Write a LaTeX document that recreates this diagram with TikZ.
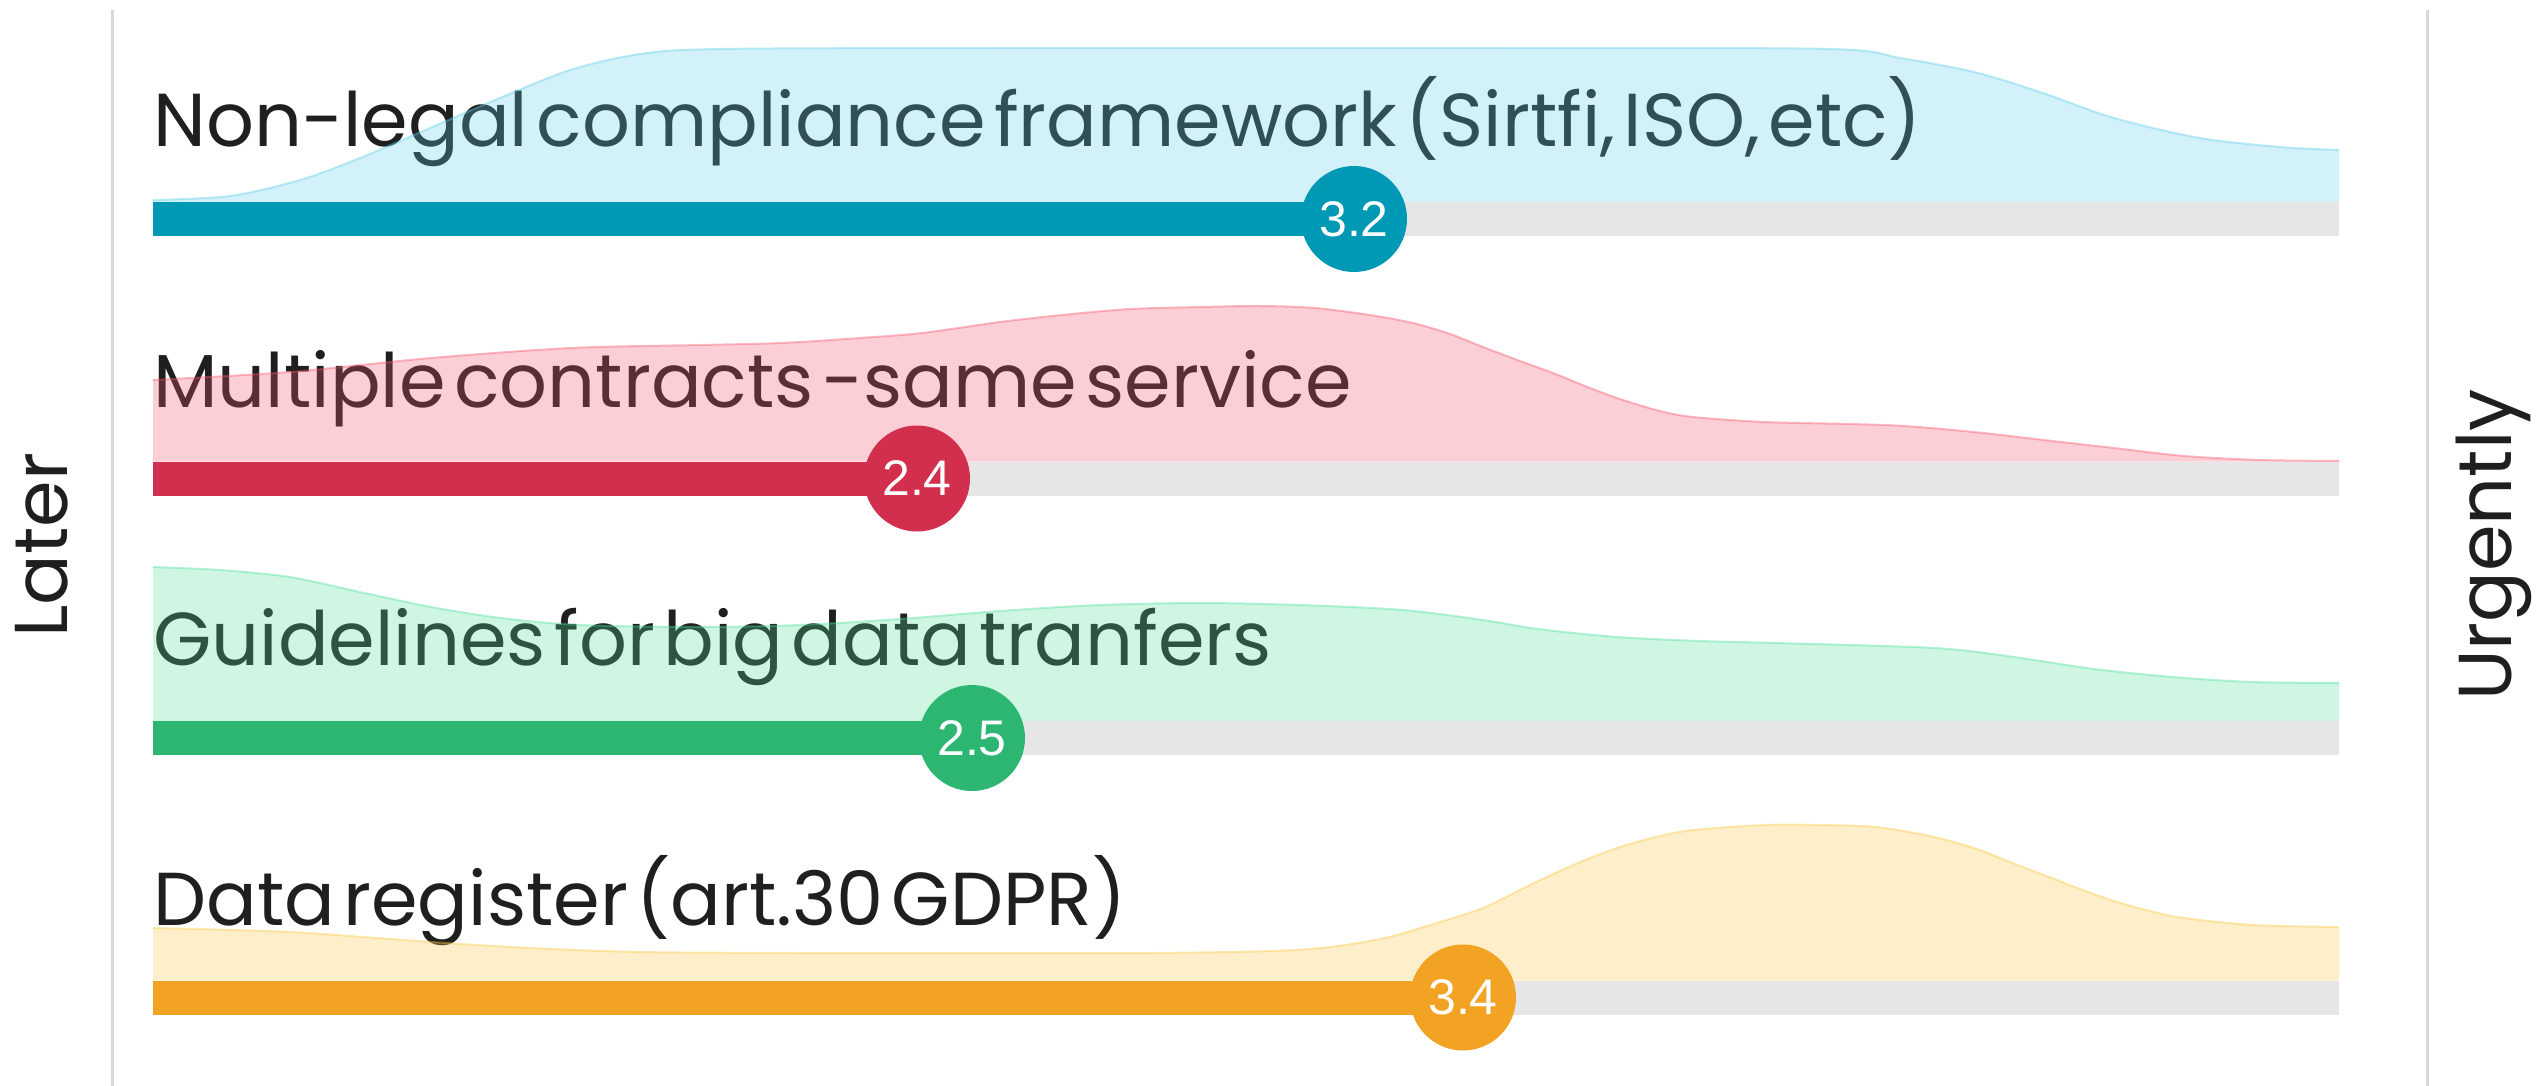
\documentclass[tikz,border=0pt]{standalone}
\usepackage{fontspec}
\setmainfont{Poppins}
\newfontfamily\titlefont[WordSpace=0.42]{Poppins}
\newfontfamily\numfont{Liberation Sans}

\definecolor{ink}{HTML}{1F1F1F}
\definecolor{track}{HTML}{E6E6E6}
\definecolor{axisgray}{HTML}{D8D8D8}
\definecolor{blueBar}{HTML}{0099B5}
\definecolor{blueDen}{RGB}{94,206,235}
\definecolor{redBar}{HTML}{D22F4E}
\definecolor{redDen}{RGB}{246,85,108}
\definecolor{greenBar}{HTML}{2DB672}
\definecolor{greenDen}{RGB}{80,224,156}
\definecolor{orangeBar}{HTML}{F2A324}
\definecolor{orangeDen}{RGB}{252,200,68}

% one ridge: colour, baseline y, points of the upper edge
\newcommand\ridge[3]{%
  \fill[ridgefill=#1] (153,#2) -- plot[smooth,tension=0.5] coordinates {#3} -- (2339,#2) -- cycle;
  \draw[ridgeline=#1] plot[smooth,tension=0.5] coordinates {#3};
}

\begin{document}
\begin{tikzpicture}[x=0.5pt,y=-0.5pt,
  itemlabel/.style={anchor=base west, inner sep=0pt, text=ink,
    font=\titlefont\fontsize{37.5}{40}\selectfont},
  sidelabel/.style={anchor=base, inner sep=0pt, rotate=90, text=ink,
    font=\fontsize{37.5}{40}\selectfont},
  ridgefill/.style={fill=#1, fill opacity=0.28},
  ridgeline/.style={draw=#1, draw opacity=0.4, line width=1pt, line join=round},
  trackbar/.style={fill=track},
  valuebar/.style={fill=#1},
  scoredot/.style={circle, fill=#1, minimum size=53pt, inner sep=0pt, text=white,
    font=\numfont\fontsize{25}{25}\selectfont},
  axisline/.style={draw=axisgray, line width=1.5pt},
]
\useasboundingbox[fill=white] (0,0) rectangle (2545,1086);

% side axes
\draw[axisline] (112,10) -- (112,1086);
\draw[axisline] (2427,10) -- (2427,1086);
\node[sidelabel] (later) at (68,545) {Later};
\node[sidelabel] (urgently) at (2511,545) {Urgently};

% item titles (set under the translucent ridges)
\node[itemlabel] (t1) at (153,147) {Non-legal compliance framework (Sirtfi, ISO, etc)};
\node[itemlabel] (t2) at (153,407) {Multiple contracts -same service};
\node[itemlabel] (t3) at (153,665) {Guidelines for big data tranfers};
\node[itemlabel] (t4) at (153,925) {Data register (art.30 GDPR)};

% answer distributions
\ridge{blueDen}{202}{(153,200) (230,196) (300,180) (360,158) (430,128) (500,98) (570,70) (640,54) (720,49) (1000,48) (1500,48) (1830,49) (1900,58) (1974,72) (2040,92) (2114,118) (2200,138) (2280,147) (2339,150)}
\ridge{redDen}{461.5}{(153,380) (290,372) (431,358) (571,348) (700,345) (781,343) (860,338) (922,333) (1000,322) (1062,315) (1130,309) (1202,307) (1260,306) (1315,308) (1370,315) (1413,323) (1450,334) (1483,347) (1520,361) (1553,373) (1590,388) (1623,400) (1660,411) (1693,417) (1764,422) (1850,424) (1904,426) (1974,432) (2044,440) (2114,448) (2184,456) (2260,460) (2339,461)}
\ridge{greenDen}{721}{(153,567) (220,570) (290,577) (360,592) (431,607) (501,618) (580,625) (700,627) (800,625) (900,619) (1000,611) (1100,605) (1200,603) (1300,605) (1403,610) (1483,620) (1538,629) (1617,637) (1700,641) (1776,643) (1935,648) (2014,657) (2094,669) (2173,677) (2252,682) (2339,683)}
\ridge{orangeDen}{980.5}{(153,928) (290,932) (431,942) (530,948) (641,952) (800,953) (992,953) (1150,953) (1272,951) (1330,947) (1385,938) (1430,925) (1483,908) (1520,890) (1553,874) (1590,858) (1623,846) (1660,836) (1693,830) (1764,825) (1820,825) (1876,827) (1930,836) (1974,848) (2010,862) (2044,875) (2080,889) (2114,901) (2150,911) (2184,918) (2254,925) (2339,927)}

% tracks, value bars and score dots
\fill[trackbar] (153,202) rectangle (2339,236);
\fill[trackbar] (153,461.5) rectangle (2339,495.5);
\fill[trackbar] (153,721) rectangle (2339,755);
\fill[trackbar] (153,980.5) rectangle (2339,1014.5);

\fill[valuebar=blueBar] (153,202) rectangle (1354,236);
\fill[valuebar=redBar] (153,461.5) rectangle (917,495.5);
\fill[valuebar=greenBar] (153,721) rectangle (972,755);
\fill[valuebar=orangeBar] (153,980.5) rectangle (1463,1014.5);

\node[scoredot=blueBar] (s1) at (1354,219) {3.2};
\node[scoredot=redBar] (s2) at (917,478.5) {2.4};
\node[scoredot=greenBar] (s3) at (972,738) {2.5};
\node[scoredot=orangeBar] (s4) at (1463,997.5) {3.4};
\end{tikzpicture}
\end{document}
